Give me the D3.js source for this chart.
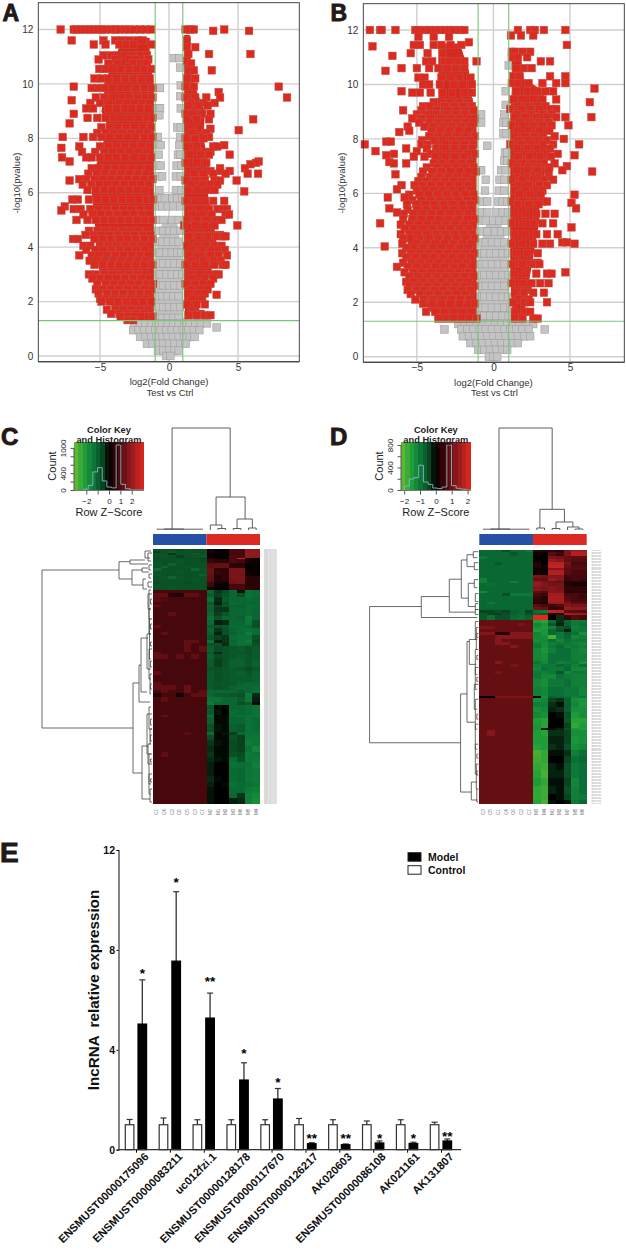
<!DOCTYPE html>
<html>
<head>
<meta charset="utf-8">
<script src="https://d3js.org/d3.v7.min.js"></script>
<style>
html, body { margin: 0; padding: 0; background: #fff; }
svg { display: block; font-family: "Liberation Sans", Arial, sans-serif; }
</style>
</head>
<body>
<div id="chart"></div>
<script>
// volcano plots: each row is [-log10(p), x, x, x ...]
const grayRowsA = [
  [10.95,.35,.75],[10.6,.8],[9.95,.85],[9.85,-.65],[9.55,.8],[9.1,-.8,-.65,.85],[8.85,-.85,-.7],[8.4,.6,.85],
  [8.05,-.95,-.8,.8],[7.75,-.8,-.6,.75],[7.4,-.75,.65,.8],[7,-.9,-.6,.55,.9],[6.6,-.8,-.5,.5,.85],[6.1,-.7,.5,.9],
  [5.8,-.9,-.55,-.3,.25,.6,.95],[5.5,-.9,-.5,-.1,.3,.8],[5,-.9,-.4,.25,.7],[4.6,-.8,-.4,0,.4,.8],[4.2,-.9,-.5,-.1,.3,.7],
  [3.8,-.95,-.6,-.2,.2,.6,.9],[3.4,-.8,-.4,0,.4,.8],[3,-.95,-.6,-.2,.2,.6,.95],[2.6,-.8,-.4,0,.4,.8],[2.2,-.9,-.5,-.1,.3,.7],
  [1.8,-.8,-.4,0,.4,.8],[1.4,-1.4,-.9,-.5,-.1,.3,.7,2.1,2.6],[1.2,-2.5,-2.1,-1.7,-1.3,-.9,-.5,-.1,.3,.7,1.1,1.5,1.9,2.3,2.75],
  [1.05,3.45],[.95,-2.6,-2.2,-1.8,-1.4,-1,-.6,-.2,.2,.6,1,1.4,1.8,2.2],[.7,-2.1,-1.7,-1.3,-.9,-.5,-.1,.3,.7,1.1,1.5,1.85],
  [.45,-1.6,-1.2,-.8,-.4,0,.4,.8,1.2],[.2,-.8,-.4,0,.4,.7],[0,-.2,.1]
];
const redRowsA = [
  [12,-7.85,-6.9,-6.7,-6.4,-6.1,-5.8,-5.5,-5.2,-4.9,-4.6,-4.2,-3.9,-3.6,-3.2,-2.9,-2.5,-2.1,-1.7,-1.3,1.2,1.5,1.8,4],
  [11.95,3.2,5.8],[11.6,-7.05,-4.75,-3.9,-3.4,-2.9,-2.3,-1.9,1.3],[11.45,-5.45,-4.6,-3.6,-3.1,-2.6,-1.25],[11.35,1.3,1.9],
  [11.1,1.4,2.9,5.9],[11.05,-4.75,-4.2,-3.7,-3.2,-2.7,-2.1,-1.6],[10.9,-5.1,-3.9,-2.9,-2.4,-1.5],[10.85,1.3],
  [10.75,-4.4,-3.7,-2.6,-2.05,-1.6,1.6],[10.55,-5.05,-4.6,-4.1,-3.5,-2.9,-2.3,-1.8,-1.3],[10.5,1.5,1.8,3.1],[10.2,-5.4,-4.9,-4.4,-3.8,-3.2,-2.6,-2,-1.4,1.3,1.9],
  [9.9,-6.9,1.2,1.8,7.95],[9.85,-5.6,-5.1,-4.6,-4.1,-3.5,-3,-2.4,-1.8,-1.2],[9.7,3.6],
  [9.5,-5.3,-4.7,-4.1,-3.4,-2.9,-2.3,-1.7,-1.2,1.2,1.9,2.7,3.7,8.55],[9.4,-7.05],[9.3,-5.7,-5,-4.35,-3.6,-3.05,-2.5,-1.95,-1.4,1.6,2.5,3.3],[9.2,1.4,2.1,2.8],
  [9.1,-6,-5.5,-4.4,-3.8,-3.2,-2.7,-2.1,-1.5],[8.9,-6.9,1.2,1.7,2.4,3],[8.75,-5.9,-5.2,-4.6,-4,-3.5,-2.8,-2.2,-1.6,-1.2],
  [8.7,1.3,2,2.9,6.1],[8.55,-7.2],[8.4,-4.9,-4.3,-3.7,-3.1,-2.5,-1.9,-1.3],[8.35,1.5,2.2,3],[8.3,5.05],[8.2,-5.2,-4.6,-4,-3.35,-2.75,-2.15,-1.55,1.7,2.7],
  [8.05,-7.7,-6.2,-5.5,-4.9,-4.3,-3.6,-3,-2.4,-1.8,-1.2,2.9],[8,1.2,1.9,2.5],[7.75,4],[7.7,-6.5,-5,-4.4,-3.8,-3.2,-2.6,-2,-1.4,1.3,2,3.2,3.5],
  [7.65,-7.8],[7.5,-6.3,-5.35,-4.7,-4.1,-3.5,-2.85,-2.2,-1.65,1.8,2.6,3],[7.4,1.5,2.3,2.9,4.4],[7.3,-7.75,-6,-5.6,-5,-4.4,-3.8,-3.2,-2.5,-1.9,-1.3],[7.15,-7.2,6.5],
  [7.1,1.2,2,2.7,6.3],[7.05,5.9],[6.9,-5.6,-5.1,-4.5,-3.9,-3.3,-2.7,-2.1,-1.5,3.7,5.5],[6.8,1.5,2.2,3,3.7,4.4],[6.7,-5.85,-5.25,-4.65,-4.05,-3.45,-2.85,-2.25,-1.65,1.8,2.5,3.2,4.1,5.7,6.45],
  [6.5,-6.5,-6,-5.4,-4.8,-4.2,-3.6,-3,-2.4,-1.8,-1.2],[6.45,-7.2,1.2,1.9,2.6,3.3,3.7,4.9],[6.3,-6.25,-5.65,-5.05,-4.45,-3.85,-3.25,-2.65,-2.05,-1.45,1.65,2.45,3,3.5],[6.1,-5.9,-5.3,-4.7,-4.1,-3.5,-2.9,-2.3,-1.7,1.4,2.1,2.8,3.3],
  [6.05,5.45],[5.75,-7,-6.6,-5.8,-5.2,-4.6,-4,-3.4,-2.8,-2.2,-1.6,-1.2],[5.7,1.2,1.9,2.6,3.2,4],[5.5,-7.55],
  [5.4,-6.9,-6.4,-5.7,-5.1,-4.5,-3.9,-3.3,-2.7,-2.1,-1.5,1.5,2.2,2.9,3.5,3.9,4.2],[5.35,-7.8],[5.2,-6.2,-5.55,-4.95,-4.35,-3.75,-3.15,-2.55,-1.95,-1.4,1.7,2.45,3.1,4.1,4.35],[5,-6.7,-5.9,-5.3,-4.7,-4.1,-3.5,-2.9,-2.3,-1.7,-1.2,1.3,2,2.7,3.4,3.8],
  [4.8,1.1,1.9,2.6,3.3,4.95],[4.6,-5.8,-5.2,-4.6,-4,-3.4,-2.8,-2.2,-1.6],[4.45,-6.05,-5.5,-4.9,-4.3,-3.7,-3.1,-2.5,-1.9,-1.35,1.7,2.4,3.15,3.7],[4.4,1.4,2.1,2.8,3.5,3.9,4.1],[4.3,-6.95,-6.6,-5.4,-4.8,-4.2,-3.6,-3,-2.4,-1.8,-1.2],
  [4.05,-6.2,-5.7,-5,-4.4,-3.8,-3.2,-2.6,-2,-1.4,1.3,2,2.7,3.3,3.8],[3.9,-6,-5.35,-4.75,-4.15,-3.55,-2.95,-2.35,-1.75,1.65,2.4,3.1,3.55,4.05],[3.7,-6.5,-5.6,-5.1,-4.5,-3.9,-3.3,-2.7,-2.1,-1.5,1.5,2.3,3,3.6,4.2],
  [3.5,-5.75,-5.25,-4.65,-4.05,-3.45,-2.85,-2.25,-1.65,1.65,2.5,3.2,3.75],[3.35,-5.4,-4.8,-4.2,-3.6,-3,-2.4,-1.8,-1.2,1.2,1.9,2.6,3.3,3.9,4.1],[3,-5.8,-5.3,-4.7,-4.1,-3.5,-2.9,-2.3,-1.7,1.5,2.2,2.9,3.6,3.4],
  [2.85,-5.55,-5,-4.4,-3.8,-3.2,-2.6,-2,-1.4,1.7,2.6,3.2],[2.65,-5.2,-4.6,-4,-3.4,-2.8,-2.2,-1.6,-1.15,1.2,1.9,2.5,3],[2.45,-5.3,-4.8,-4.2,-3.6,-3,-2.4,-1.8,-1.25,1.6,2.3,2.8],[2.3,-5.1,-4.5,-3.9,-3.3,-2.7,-2.1,-1.5,1.4,2.1,2.6],[2.25,3.45],
  [2.1,-5,-4.6,-4,-3.4,-2.8,-2.2,-1.65,1.65,2.4],[2,-4.9,-4.3,-3.7,-3.1,-2.5,-1.9,-1.3],[1.9,1.3,2,2.6],[1.7,-4.5,-3.9,-3.3,-2.7,-2.1,-1.5],[1.55,-4.2,-3.6,-3,-2.4,-1.8,1.7,2.3],[1.5,1.4,2,2.6,3],[1.45,-3.5,-3,-2.5,-2,-1.5,-1.2],[1.32,-3,-2.6]
];
const grayRowsB = [
  [10.7,1],[9.75,.8],[9.25,.8],[8.9,-.8,.7],[8.6,-.8,.65,.85],[8.2,.65,.85],[7.75,-.4],[7.5,.75,.9],[7.2,.7,.9],[6.85,-1,-.8,.5,.8],
  [6.5,-.5,.4,.7],[6.1,-.55,.35,.7],[5.7,-.7,-.4,.3,.6,.9],[5.3,-.8,-.4,.2,.6,.95],[5,-.9,-.5,0,.4,.8],[4.6,-.8,-.4,.1,.5,.9],
  [4.2,-.9,-.5,-.1,.3,.7],[3.8,-.95,-.6,-.2,.2,.6,.95],[3.4,-.9,-.5,-.1,.3,.7],[3,-.95,-.6,-.2,.2,.6,1],[2.6,-.9,-.5,-.1,.3,.7],
  [2.2,-1,-.6,-.2,.2,.6,.95],[1.8,-.9,-.5,-.1,.3,.7,1.1],[1.5,-1,-.6,-.2,.2,.6,1],[1.2,-2.3,-1.9,-1.5,-1.1,-.7,-.3,.1,.5,.9,1.3,1.7,2.1,2.6],
  [1,-3.2,-2.1,-1.7,-1.3,-.9,-.5,-.1,.3,.7,1.1,1.5,1.9,2.3,3.35],[.75,-2,-1.6,-1.2,-.8,-.4,0,.4,.8,1.2,1.6,2,2.4],
  [.5,-1.5,-1.1,-.7,-.3,.1,.5,.9,1.3,1.6],[.25,-1,-.6,-.2,.2,.6,.9],[0,-.3,0,.25]
];
const redRowsB = [
  [12,-8.07,-7.4,-7.3,-6.4,-5.1,-4.9,-4.5,-4.2,-3.8,-3.5,-3.2,-2.9,-2.6,-2.2,-1.9,1.6,2.4,2.7,3.3,4.7],[11.8,1.15,1.8,2.6],[11.75,-4.9,-3.9,-2.9],
  [11.55,-1.6],[11.45,-5.2,-4.8,-3.9,-3.4,-2.8,-2.1,4.8],[11.4,-7.9],[11.2,1.2,1.4,1.9,2.4],[11.15,-5.4,-4.3,-3.3],[11.05,-6.6],[11,1.2,1.6,2.2],
  [10.85,-4.4,-4,-3.2,-2.9,-2.3,-1.9,-1.1,3.1,3.7],[10.6,-6,-5,-4.2,-3.6,-3,-2.5,-1.9,1.5,2,2.5],[10.5,-7.05],[10.3,1.3,1.7,3.7,4.7],
  [10.25,-4.9,-4.5,-3.4,-2.8,-2.2,-1.5],[10.05,1.2,1.6,2.3,3.2,4.1,4.7],[10,-4.6,-4.2,-3.5,-2.6,-2,-1.4],[9.85,6.6],
  [9.75,-6,1.5,2.2,2.9,3.4,3.9],[9.7,-5.3,-4.8,-4.1,-3.3,-2.7,-1.9,-1.4],[9.45,1.3,1.9,2.6,3.2,4.1],[9.35,-3.9,-3.4,-2.8,-2.2,-1.6,6.3],
  [9.2,-4.6,-4.15,-3.2,-2.55,-1.95,-1.4,1.6,2.2,2.8,3.4],[9.1,1.1,1.8,2.4,3,3.7,4.1],[9.05,-5.9,-4.7,-3.7,-3,-2.4,-1.8,-1.3],[8.9,-5,-4.4,-3.75,-3.1,-2.5,-1.85,1.5,2.4,3.2,3.8],[8.8,1.4,2.1,2.8,3.5,4.1,4.7,6.4],[8.75,-5.3,-4.7,-4.1,-3.4,-2.8,-2.2,-1.5,-1.2],
  [8.6,-4.85,-4.2,-3.6,-3,-2.4,-1.8,-1.3,1.7,2.35,3,3.6],[8.5,1.2,1.9,2.6,3.2,3.8,4.9],[8.45,-5.6,-4.5,-3.9,-3.3,-2.7,-2.1,-1.5],[8.3,-5.5,-4.05,-3.45,-2.85,-2.25,-1.65,1.55,2.3,3,3.65],[8.25,-6.15],[8.1,-4.2,-3.6,-3,-2.4,-1.8,-1.2,1.4,2.1,2.7,4],
  [8,4.6],[7.95,-4.65,-3.9,-3.3,-2.7,-2.1,-1.55,1.65,2.3,2.95,3.5],[7.9,-7,-6.7],[7.8,-8.4,-4.7,-4.3,-3.1,-2.5,-1.9,-1.3,1.1,1.8,2.5,3.2,3.9,5.6],[7.65,-5.7,-4.35,-3.75,-3.15,-2.55,-1.95,-1.4,1.55,2.2,2.85,3.7],[7.55,-7.7,-5],[7.45,-6.5,-4.1,-3.5,-2.9,-2.3,-1.7,-1.2,1.4,2.1,2.8,3.5,4.2],
  [7.4,-7,5.3],[7.35,-5.2,-4.5,-3.8,-3.15,-2.55,-1.9,1.65,2.35,3.05,3.75],[7.15,-6.8],[7.1,-6.5,-5.7,-3.9,-3.3,-2.7,-2.1,-1.5,1.2,1.9,2.6,3.3,4],[7,4.8],[6.95,-4.35,-3.65,-3.05,-2.45,-1.85,-1.3,1.55,2.3,2.95,3.65],[6.85,1.5,2.2,2.9,3.6,4.5],[6.8,-4.6,-4,-3.4,-2.8,-2.2,-1.6,-1.15,6.45],
  [6.7,-6.4],[6.6,-4.7,-4.15,-3.55,-2.95,-2.35,-1.75,1.6,2.25,2.95,3.6],[6.5,1.2,1.9,2.6,3.3,3.9],[6.45,-4.9,-4.4,-3.8,-3.2,-2.6,-2,-1.4],[6.3,-6,-5.15,-4.65,-4.05,-3.45,-2.85,-2.25,-1.65,1.6,2.3,3,3.5],[6.15,-6.3],[6.1,-5,-4.5,-3.9,-3.3,-2.7,-2.1,-1.5,1.4,2.1,2.8,3.2],
  [5.95,5.3,-5.5,-4.85,-4.25,-3.65,-3.05,-2.45,-1.85,-1.3,1.7,2.4,3.1],[5.85,-6.9,-5.8],[5.75,-5.3,-4.7,-4.1,-3.5,-2.9,-2.3,-1.7,-1.2],[5.7,1.2,1.9,2.6,3.2,3.5],[5.65,5.1],[5.6,-5.65,-5.05,-4.45,-3.85,-3.25,-2.65,-2.05,-1.5,1.6,2.3,2.95],[5.45,-6.8,5.4],[5.4,-5.6,-5,-4.4,-3.8,-3.2,-2.6,-2,-1.4],
  [5.3,-6.3],[5.25,1.4,2.1,2.8,3.4,4,-5.85,-5.25,-4.65,-4.05,-3.45,-2.85,-2.25,-1.65],[5.05,-5.9,-5.3,-4.7,-4.1,-3.5,-2.9,-2.3,-1.7,-1.2],[4.9,-7.4,1.2,1.9,2.6,3.2,3.9],[4.85,-6.05,-5.5,-4.9,-4.3,-3.7,-3.1,-2.5,-1.9,-1.35],[4.75,5.1],[4.7,-5.8,-5.2,-4.6,-4,-3.4,-2.8,-2.2,-1.6],
  [4.5,1.4,2.1,2.8,3.5,4.2,-6.05,-5.5,-4.95,-4.35,-3.75,-3.15,-2.55,-1.95,-1.4],[4.35,-5.9,-5.4,-4.8,-4.2,-3.6,-3,-2.4,-1.8,-1.2],[4.2,4.5,4.8],[4.15,1.2,1.9,2.6,3.2,3.7,5.3,-5.95,-5,-4.4,-3.8,-3.2,-2.6,-2,-1.45],[4.05,-7.1],[4,-5.7,-5.2,-4.6,-4,-3.4,-2.8,-2.2,-1.6],
  [3.8,1.5,2.2,2.9,-5.95,-5.4,-4.8,-4.2,-3.6,-3,-2.4,-1.8,-1.25],[3.65,-5.7,-5.1,-4.5,-3.9,-3.3,-2.7,-2.1,-1.5],[3.45,-5.9,-5.35,-4.75,-4.15,-3.55,-2.95,-2.35,-1.75,1.65,2.4,2.9],[3.4,1.2,1.9,2.6,3],[3.3,-6.3,-5.6,-5,-4.4,-3.8,-3.2,-2.6,-2,-1.4],[3.1,4.7,-5.8,-5.25,-4.65,-4.05,-3.45,-2.85,-2.25,-1.65],[3.05,1.4,2.1,2.8,3.5,3.8],
  [2.95,-5.5,-4.9,-4.3,-3.7,-3.1,-2.5,-1.9,-1.3],[2.75,-5.7,-5.2,-4.6,-4,-3.4,-2.8,-2.2,-1.6],[2.7,1.2,1.9,2.5,3.05,3.6],[2.6,-5.5,-4.9,-4.3,-3.7,-3.1,-2.5,-1.9,-1.2],[2.45,-5.6,-5.05,-4.45,-3.85,-3.25,-2.65,-2.05,-1.5,1.65,2.25],[2.35,1.4,2,2.6,3.3],
  [2.3,-5.4,-4.8,-4.2,-3.6,-3,-2.4,-1.8],[2.1,-5.1,-4.55,-3.95,-3.35,-2.75,-2.15,-1.55,1.65,2.3],[2,1.3,2,2.4,3.5],[1.95,-4.6,-4,-3.4,-2.8,-2.2,-1.6,-1.2],[1.65,-4.4,-3.8,-3.2,-2.6,-2,-1.4,1.4,2,2.4],
  [1.4,-3.6,-3.1,-2.6,-2.1,-1.6,-1.1,1.4,1.9,2.6,2.9]
];
// solid part of the point clouds: [y, xLeft, xRight]
const massA = {
  gray: [[5,-.45,.55],[4,-.9,.9],[3,-1,1],[1.4,-1,1],[1.25,-2.4,2.6],[.9,-2.4,2],[.6,-1.7,1.7],[.3,-.9,.9],[.05,-.3,.3]],
  left: [[11.7,-3.3,-1.4],[11,-3.9,-1.4],[10,-4.7,-1.1],[9.5,-4.7,-1.1],[9,-4.9,-1.1],[8.5,-4.5,-1.1],[8,-4.7,-1.1],[7.5,-4.9,-1.1],[7,-5.3,-1.1],[6.5,-5.5,-1.1],[6,-5.6,-1.1],[5.5,-5.5,-1.1],[5,-5.4,-1.1],[4.5,-5.3,-1.1],[4,-5.3,-1.1],[3.5,-5.2,-1.1],[3,-5,-1.1],[2.5,-4.7,-1.1],[2,-4.4,-1.1],[1.6,-3.8,-1.1],[1.3,-3.1,-1.1]],
  right: [[11.8,1.1,1.5],[11,1.1,1.5],[10,1.1,1.8],[9,1.1,2.6],[8,1.1,2.5],[7,1.1,2.9],[6,1.1,2.8],[5,1.1,3.2],[4,1.1,3.5],[3,1.1,3],[2,1.1,2.1],[1.4,1.2,2.3]]
};
const massB = {
  gray: [[5,-.4,.45],[4,-.9,.9],[3,-1,1],[1.45,-1,1],[1.25,-2.2,2.4],[.9,-2.3,2.3],[.6,-1.8,2],[.3,-1,1],[.05,-.3,.3]],
  left: [[11.5,-3.6,-2.2],[10.5,-3.6,-1.6],[9.5,-3.6,-1.4],[9,-4.4,-1.1],[8.5,-4.4,-1.1],[8,-3.9,-1.1],[7.5,-3.9,-1.1],[7,-3.9,-1.1],[6.5,-4.5,-1.1],[6,-4.8,-1.1],[5.5,-5.2,-1.1],[5,-5.6,-1.1],[4.5,-5.6,-1.1],[4,-5.6,-1.1],[3.5,-5.6,-1.1],[3,-5.4,-1.1],[2.5,-5.3,-1.1],[2,-4.6,-1.1],[1.5,-3.9,-1.1],[1.3,-3.3,-1.1]],
  right: [[11,1.2,1.8],[10.2,1.2,2],[9.8,1.2,3.2],[9,1.1,3.6],[8,1.1,3.5],[7,1.1,3.5],[6,1.1,3],[5,1.1,3],[4,1.1,2.7],[3,1.1,2.4],[2,1.2,2.1],[1.4,1.3,2.1]]
};

// heatmaps: [row height, z * 10 for each column]
const columnsC = ["C1","C4","C2","C6","C5","C3","C7","M7","M1","M2","M3","M6","M5","M4"];
const heatC = [
  [2,-8,-8,-8,-7,-8,-8,-8,2,0,0,9,9,20,20],[2,-6,-8,-10,-8,-9,-7,-8,3,1,0,9,9,20,20],[2,-9,-8,-5,-8,-8,-10,-8,1,0,1,9,9,21,21],
  [3,-8,-9,-8,-6,-8,-8,-9,2,0,0,10,9,20,20],[1,-7,-8,-8,-8,-7,-8,-6,4,1,1,9,30,3,1],[4,-8,-8,-8,-9,-8,-8,-7,7,5,5,10,9,3,2],
  [3,-9,-8,-11,-8,-8,-8,-8,12,13,14,6,5,1,1],[2,-8,-12,-8,-8,-9,-8,-8,13,14,14,5,6,0,1],[3,-13,-8,-8,-8,-8,-12,-9,15,6,6,17,17,1,1],
  [3,-8,-8,-8,-9,-8,-8,-8,15,7,5,17,17,2,1],[2,-10,-8,-8,-8,-8,-8,-11,14,5,6,17,16,2,1],[3,-8,-9,-12,-9,-8,-8,-8,13,4,6,17,17,6,5],
  [3,-8,-8,-8,-8,-8,-9,-8,13,4,5,16,17,5,6],[2,-7,-8,-8,-8,-7,-8,-8,8,3,2,15,16,5,5],[3,-8,-8,-8,-8,-8,-8,-8,8,1,1,9,9,5,5],[3,-8,-8,-9,-8,-8,-8,-8,3,0,0,9,9,6,6],
  [3,9,9,9,9,9,9,9,-12,-5,-7,-12,-2,-14,-13],[4,13,13,5,4,13,13,9,-10,-6,-9,-12,-8,-14,-13],[5,12,10,9,9,9,9,9,-14,-4,-10,-12,-12,-13,-12],
  [3,9,9,9,9,9,9,9,-10,-3,-8,-13,-12,-12,-12],[2,13,9,9,9,9,9,9,-12,-6,-9,-11,-11,-13,-13],[5,9,9,9,9,9,9,9,-11,-5,-5,-12,-12,-13,-12],
  [4,9,9,13,9,9,9,9,-12,-6,-9,-12,-12,-13,-12],[4,9,9,9,9,9,9,9,-14,-8,-12,-12,-11,-16,-12],[5,9,9,9,9,9,9,9,-13,-3,-4,-12,-12,-15,-8],[3,13,9,9,9,9,9,9,-10,-8,-9,-13,-13,-12,-8],
  [4,9,9,9,9,9,9,9,-12,-5,-8,-12,-13,-14,-13],[3,9,13,9,9,9,9,9,-11,-3,-8,-11,-13,-16,-13],[5,9,9,9,9,9,9,9,-9,-6,-5,-13,-14,-14,-8],[3,9,9,9,9,13,13,9,-14,-3,-5,-12,-14,-16,-7],
  [3,9,9,9,9,13,9,9,-8,-8,-4,-12,-14,-13,-8],[6,9,9,9,9,13,9,13,-11,-7,-8,-9,-10,-8,-10],[2,13,9,9,9,9,9,9,-9,-4,-8,-10,-9,-8,-10],[5,13,13,9,13,9,13,9,-11,-7,-8,-9,-10,-9,-10],
  [8,9,9,9,9,9,9,9,-10,-6,-8,-11,-11,-9,-11],[4,9,9,9,9,9,9,9,-8,-8,-9,-10,-9,-7,-9],[4,13,9,9,9,9,9,9,-10,-8,-9,-10,-11,-9,-11],[7,9,9,9,9,9,9,9,-10,-8,-9,-10,-10,-10,-11],[3,13,9,9,9,9,9,9,-10,-9,-9,-9,-11,-12,-12],
  [5,13,13,13,9,14,9,9,-10,-8,-9,-11,-12,-12,-13],[3,9,13,9,9,14,9,13,-12,-12,-12,-12,-10,-12,-14],[4,4,9,9,2,9,13,13,-12,-10,-10,-9,-8,-16,-4],[5,9,13,9,9,9,9,9,-14,-14,-12,-12,-10,-15,-3],
  [3,9,9,9,9,9,9,9,-16,-12,-12,-12,-8,-10,-1],[4,9,9,9,9,9,9,9,-9,-1,-1,-12,-12,-13,-14],[6,9,9,9,9,9,9,9,-10,-2,0,-13,-12,-13,-14],[2,9,13,9,9,9,9,9,-14,0,-1,-13,-14,-14,-15],
  [7,9,9,9,9,9,9,9,-11,-1,-1,-12,-12,-14,-13],[8,9,9,9,9,9,9,9,-8,-2,-1,-11,-10,-14,-13],[3,9,9,9,9,12,9,9,-13,-1,-2,-6,-12,-14,-14],[5,9,9,9,9,9,9,9,-7,-1,-1,-8,-6,-15,-15],[6,9,9,9,9,9,9,9,-5,-2,-1,-7,-6,-16,-15],
  [6,9,9,9,9,9,9,9,-4,-1,-1,-7,-6,-14,-18],[5,9,13,9,9,9,9,9,-5,-1,-1,-8,-7,-16,-15],[5,9,9,9,9,9,9,9,-4,-2,-1,-13,-8,-15,-16],[6,9,9,9,9,9,9,9,-3,0,0,-14,-13,-14,-17],
  [8,9,9,9,9,9,9,9,-3,0,0,-13,-12,-15,-16],[6,9,9,9,9,9,9,9,-4,-1,0,-13,-12,-15,-16],[5,9,9,9,9,9,9,9,-3,0,-1,-14,-13,-14,-15],[6,9,9,9,9,9,9,9,-2,0,0,-13,-13,-16,-17],[5,9,9,9,9,9,9,9,-2,0,0,-12,-5,-17,-19],[6,9,9,9,9,9,9,9,-2,0,0,-3,-4,-17,-20]
];
const columnsD = ["C3","C5","C1","C4","C6","C2","C7","M3","M4","M1","M2","M7","M5","M6"];
const heatD = [
  [2,-8,-8,-8,-5,-8,-8,-10,4,3,4,3,11,15,15],[4,-8,-8,-8,-8,-6,-8,-8,1,0,7,5,11,17,17],[3,-10,-8,-8,-8,-8,-8,-8,0,0,11,10,9,8,8],[3,-8,-8,-8,-8,-8,-8,-8,1,0,14,12,9,7,7],
  [3,-8,-8,-6,-8,-8,-8,-8,3,0,18,18,10,6,6],[3,-8,-8,-8,-8,-8,-8,-8,3,2,19,19,9,7,7],[2,-8,-8,-8,-8,-8,-8,-8,1,1,12,12,8,7,7],[5,-8,-8,-8,-8,-8,-8,-8,1,1,17,17,8,6,6],
  [3,-8,-8,-8,-8,-8,-8,-8,11,10,12,12,5,6,6],[3,-11,-8,-8,-8,-8,-8,-8,9,9,14,12,5,6,5],[2,-11,-8,-8,-8,-11,-8,-8,13,11,10,9,3,3,3],[3,-8,-9,-8,-8,-8,-8,-8,14,12,10,11,3,2,2],
  [5,-8,-8,-8,-8,-8,-8,-8,12,11,12,11,4,4,4],[2,-12,-8,-8,-8,-8,-8,-8,8,7,12,12,3,3,3],[3,-8,-8,-8,-5,-10,-10,-10,6,5,15,15,6,6,5],[3,-8,-8,-8,-8,-8,-8,-8,5,3,16,16,7,6,5],
  [3,-8,-8,-8,-8,-8,-8,-8,4,3,16,16,8,6,6],[2,-8,-10,-8,-8,-8,-8,-8,3,2,14,14,11,8,8],[3,-8,-8,-8,-8,-8,-8,-8,8,6,5,7,12,11,11],[3,-8,-8,-8,-8,-8,-8,-8,10,9,4,4,14,13,13],
  [3,-4,-4,-5,-4,-7,-8,-4,-9,-10,19,18,8,8,7],[2,-6,-4,-4,-5,-7,-8,-5,-7,-6,3,4,16,14,14],[5,-6,-9,-5,-5,-8,-9,-7,22,22,0,-3,4,7,6],
  [4,9,9,9,9,9,9,9,-15,-16,-9,-3,-8,-10,-10],[3,9,9,9,9,9,11,9,-12,-14,-6,-2,-7,-10,-9],[3,11,11,9,9,9,9,9,-13,-15,-11,-6,-5,-11,-10],[3,9,9,9,9,9,9,9,-15,-14,-8,-5,-2,-10,-10],
  [3,12,12,3,3,12,12,12,-12,-14,-8,-10,-7,-9,-13],[4,9,9,12,12,12,12,12,-12,-13,-19,-10,-8,-12,-11],[3,9,9,12,9,9,9,9,-13,-12,-9,-12,-9,-10,-10],[3,9,9,12,12,9,9,9,-11,-13,-11,-10,-10,-11,-12],
  [3,9,9,9,9,12,9,9,-10,-13,-10,-8,-11,-10,-11],[5,9,9,9,9,9,9,9,-12,-14,-11,-9,-9,-11,-12],[8,9,9,9,9,9,9,9,-12,-13,-9,-9,-9,-11,-11],[3,9,9,12,9,9,9,9,-10,-12,-9,-11,-10,-10,-13],[3,9,9,9,9,11,9,9,-11,-10,-10,-8,-9,-11,-9],
  [4,9,9,9,9,9,9,9,-12,-9,-10,-10,-8,-12,-12],[3,9,9,11,9,9,9,9,-10,-11,-10,-6,-12,-10,-10],[5,9,9,9,9,9,9,9,-10,-12,-12,-9,-10,-11,-11],[8,9,9,9,9,9,9,9,-12,-13,-10,-10,-9,-11,-11],[9,9,9,9,9,9,9,9,-11,-12,-9,-9,-10,-10,-12],[2,0,0,11,11,11,11,11,1,-13,-7,-8,-9,-11,-10],
  [4,9,9,9,9,9,9,9,-13,-12,-4,-3,-7,-13,-14],[5,9,9,9,9,9,9,9,-11,-11,-3,-1,-7,-12,-14],[5,9,9,9,9,9,9,9,-13,-12,-2,-3,-7,-13,-13],[6,9,9,9,9,9,9,9,-12,-13,0,-1,-5,-15,-13],
  [5,9,9,9,9,9,9,9,-15,-16,0,0,-6,-16,-16],[5,9,9,9,9,9,9,9,-14,-16,0,0,-4,-17,-15],[2,9,9,9,9,9,9,9,-14,-1,-1,-2,-5,-14,-15],[6,9,12,9,9,9,9,9,-15,-16,-3,-3,-4,-13,-13],
  [8,9,9,9,9,9,9,9,-15,-15,-2,-2,-4,-14,-13],[6,9,9,9,9,9,9,9,-16,-15,-3,-2,-5,-13,-12],[6,9,9,9,9,9,9,9,-19,-17,-1,-1,-3,-11,-9],
  [7,9,9,9,9,9,9,9,-18,-17,0,0,-4,-9,-8],[7,9,9,9,9,9,9,9,-17,-18,-2,-1,-5,-10,-9],[8,9,9,9,9,9,9,9,-16,-19,-2,-2,-5,-10,-9],
  [8,9,9,9,9,9,9,9,-15,-17,-1,-1,-4,-12,-9],[8,9,9,9,9,9,9,9,-17,-18,-2,-1,-5,-11,-9],[6,9,9,9,9,9,9,9,-17,-18,0,-1,-4,-11,-10],[4,9,9,9,9,9,9,9,-16,-19,-1,0,-1,-10,-8]
];
const colorStops = [-1,-.7,-.4,-.2,-.05,0,.15,.35,.6,1];
const colorRange = ["#6cbd2f","#1f9f3a","#0a6f37","#0a4a22","#021006","#000000","#2a0306","#5a0c10","#8e1a1e","#e0281f"];

// dendrograms: [pos1, height1, pos2, height2, height]
const colTreeC = [[.5,.5,6.5,.5,.8],[1.5,.3,4,.3,1],[2.5,1,10.1,33,102],[8.25,5,12.05,11,33],[7.5,0,9,1.5,5],[8.5,0,9.5,0,1.5],[11,1.5,13,2,11],[10.5,0,11.5,0,1.5],[12.5,0,13.5,0,2]];
const colTreeD = [[.5,.5,6.5,.5,.8],[1.5,.3,4,.3,1],[2.57,1,9.5,20.7,102],[7.9,2,11.1,8,20.7],[7.5,0,8.5,0,2],[10,1.5,12.2,3,8],[9.5,0,10.5,0,1.5],[11.5,0,13,1,3],[12.5,0,13.5,0,1]];
const rowTreeC = [[21,33,179,19,110],[12.7,22,30,20,33],[11,7,15,4,22],[21,10,36,9,20],[19,4,23,3,10],[30,6,40,5,9],[2,1,9,2,7],[4,0,12,1,4],[16,0,21,1,3],[25,0,29,1,3],[33,0,38,0,4],
  [134,13,224,10,19],[116,11,153,2,13],[89,4,143,5,11],[197,4,250,2,10],[41,1,70,1,3],[45,0,60,1,4],[60,1,85,1,3],[70,0,110,1,2.5],[85,1,120,1,5],[100,0,130,1,3],[125,0,145,1,2],[158,1,180,0,3],[165,0,205,1,5],[180,0,195,1,2],[195,1,215,0,4],[205,0,235,1,3],[225,0,245,1,3],[240,0,253,0,2],[50,0,55,0,1.5],[75,0,80,0,1.5],[93,0,97,0,1.5],[112,0,118,0,1.5],[135,0,140,0,1.5],[170,0,176,0,1.5],[186,0,192,0,1.5],[210,0,213,0,1.5],[230,0,233,0,1.5]];
const rowTreeD = [[57,57,193.6,17.7,108.7],[47,29,68,1,57],[29.6,17,62.6,3,29],[10.3,11.3,48.6,10,17],[5,5,17,4,11.3],[33.7,4,57,3,10],[2,0,8,1,5],[13,0,20,0,4],[30,0,38,1,4],[44,0,52,0,3],[54,0,60,0,3],[60,0,65,0,3],
  [144.6,11.3,243,7,17.7],[92,9,173,3,11.3],[90,2,115,2,9],[233,1,251,1,7],[72,0,90,1,3],[78,0,100,1,2],[100,0,125,1,3],[118,0,140,1,3],[135,0,160,1,4],[150,0,180,1,3],[175,0,200,1,3],[195,0,225,1,3],[215,0,240,1,2],[240,0,253,0,1.5],[84,0,88,0,1.5],[106,0,110,0,1.5],[128,0,132,0,1.5],[165,0,170,0,1.5],[205,0,209,0,1.5],[222,0,226,0,1.5]];

// colour key histograms
const histBinsC = [20,110,430,530,215,70,50,1070,135,30];
const histBinsD = [70,195,220,440,142,100,35,25,53,800,77,30,15];

// bar chart
const transcripts = ["ENSMUST00000175096","ENSMUST00000083211","uc012fzi.1","ENSMUST00000128178","ENSMUST00000117670","ENSMUST00000126217","AK020603","ENSMUST00000086108","AK021161","AK131807"];
const modelMeans = [5.03,7.55,5.27,2.79,2.03,.24,.2,.27,.25,.35];
const modelTops = [6.8,10.33,6.27,3.48,2.45,.28,.23,.35,.3,.43];
const controlMeans = [1,1,1,1,1,1,1,1,1,1];
const controlTops = [1.21,1.27,1.2,1.2,1.2,1.25,1.2,1.15,1.2,1.1];
const stars = ["*","*","**","*","*","**","**","*","*","**"];
const starHeights = [7.2,10.85,6.9,4,2.87,.59,.59,.59,.59,.7];

const svg = d3.select("#chart").append("svg").attr("width", 626).attr("height", 1250);

function panelLetter(text, x, y, size) {
    svg.append("text").attr("x", x).attr("y", y)
        .attr("font-size", size).attr("font-weight", "bold")
        .attr("fill", "#231815").attr("stroke", "#231815").attr("stroke-width", 0.9)
        .text(text);
}

function volcano(o) {
    const x = d3.scaleLinear().domain(o.xDomain).range([o.left, o.right]);
    const y = d3.scaleLinear().domain([0, 12]).range(o.yRange);
    const g = svg.append("g");
    const side = 7.6;

    g.append("rect").attr("x", o.left).attr("y", o.top).attr("width", o.right - o.left).attr("height", o.bottom - o.top).attr("fill", "#fff");

    g.append("g").selectAll("line").data([-5, 0, 5]).join("line")
        .attr("x1", d => x(d)).attr("x2", d => x(d)).attr("y1", o.top).attr("y2", o.bottom)
        .attr("stroke", "#cfcfcf").attr("stroke-width", 1.4);
    g.append("g").selectAll("line").data(d3.range(0, 13, 2)).join("line")
        .attr("x1", o.left).attr("x2", o.right).attr("y1", d => y(d)).attr("y2", d => y(d))
        .attr("stroke", "#cfcfcf").attr("stroke-width", 1.4);

    const area = d3.area().y(d => y(d[0])).x0(d => x(d[1])).x1(d => x(d[2]));
    const points = rows => rows.flatMap(r => r.slice(1).map(v => [v, r[0]]));

    g.append("path").attr("d", area(o.mass.gray)).attr("fill", "#c2c2c2");
    g.append("g").selectAll("rect").data(points(o.gray)).join("rect")
        .attr("x", d => x(d[0]) - side / 2).attr("y", d => y(d[1]) - side / 2)
        .attr("width", side).attr("height", side)
        .attr("fill", "#c4c4c4").attr("stroke", "#a0a0a0").attr("stroke-width", 0.6);

    g.append("path").attr("d", area(o.mass.left)).attr("fill", "#d5281f");
    g.append("path").attr("d", area(o.mass.right)).attr("fill", "#d5281f");
    g.append("g").selectAll("rect").data(points(o.red)).join("rect")
        .attr("x", d => x(d[0]) - side / 2).attr("y", d => y(d[1]) - side / 2)
        .attr("width", side).attr("height", side)
        .attr("fill", "#dc2a1f").attr("stroke", "#b9544c").attr("stroke-width", 0.5);

    const green = "#78c679";
    g.selectAll(".vcut").data([-1, 1]).join("line").attr("class", "vcut")
        .attr("x1", d => x(d)).attr("x2", d => x(d)).attr("y1", o.top).attr("y2", o.bottom)
        .attr("stroke", green).attr("stroke-width", 1.1);
    g.append("line").attr("x1", o.left).attr("x2", o.right).attr("y1", y(1.3)).attr("y2", y(1.3))
        .attr("stroke", green).attr("stroke-width", 1.1);

    g.append("line").attr("x1", o.left).attr("x2", o.right).attr("y1", o.bottom).attr("y2", o.bottom)
        .attr("stroke", "#8c8c8c").attr("stroke-width", 1.6);
    g.append("rect").attr("x", o.left).attr("y", o.top).attr("width", o.right - o.left).attr("height", o.bottom - o.top)
        .attr("fill", "none").attr("stroke", "#333").attr("stroke-width", 0.9);

    const xAxis = g.append("g").attr("transform", `translate(0,${o.bottom + 1})`)
        .call(d3.axisBottom(x).tickValues([-5, 0, 5]).tickSize(0).tickPadding(1).tickFormat(d => d < 0 ? "\u2212" + (-d) : d));
    const yAxis = g.append("g").attr("transform", `translate(${o.left},0)`)
        .call(d3.axisLeft(y).tickValues(d3.range(0, 13, 2)).tickSize(0).tickPadding(5));
    [xAxis, yAxis].forEach(a => {
        a.select(".domain").remove();
        a.selectAll("text").attr("font-size", 10).attr("fill", "#333").attr("font-family", "Liberation Sans");
    });

    const cx = x(0);
    g.append("text").attr("x", cx).attr("y", o.bottom + 23.5).attr("text-anchor", "middle").attr("font-size", 9.5).attr("fill", "#333").text("log2(Fold Change)");
    g.append("text").attr("x", cx + 1).attr("y", o.bottom + 34).attr("text-anchor", "middle").attr("font-size", 9.5).attr("fill", "#333").text("Test vs Ctrl");
    g.append("text").attr("transform", `translate(${o.left - 18.5},183) rotate(-90)`).attr("text-anchor", "middle").attr("font-size", 9.5).attr("fill", "#333").text("-log10(pvalue)");
}

function heatmap(o) {
    const total = d3.sum(o.rows, r => r[0]);
    const col = d3.scaleBand().domain(d3.range(14)).range([o.left, o.right]);
    const pos = d3.scaleLinear().domain([0, 14]).range([o.left, o.right]);
    const rowY = d3.scaleLinear().domain([0, total]).range([o.top, o.bottom]);
    const color = d3.scaleLinear().domain(colorStops.map(d => d * o.zMax)).range(colorRange).clamp(true);
    const g = svg.append("g");

    let used = 0;
    const cells = [];
    o.rows.forEach(r => {
        r.slice(1).forEach((z, i) => cells.push({ i: i, start: used, n: r[0], z: z / 10 }));
        used += r[0];
    });
    g.append("g").attr("shape-rendering", "crispEdges").selectAll("rect").data(cells).join("rect")
        .attr("x", d => col(d.i)).attr("y", d => rowY(d.start))
        .attr("width", col.bandwidth() + 0.3).attr("height", d => rowY(d.start + d.n) - rowY(d.start) + 0.3)
        .attr("fill", d => color(d.z));

    // sample strip above the map
    g.append("rect").attr("x", pos(0)).attr("y", 534).attr("width", pos(7) - pos(0)).attr("height", 11).attr("fill", "#2450a6");
    g.append("rect").attr("x", pos(7)).attr("y", 534).attr("width", pos(14) - pos(7)).attr("height", 11).attr("fill", "#dc2a22");

    // column tree
    const colH = d3.scaleLinear().domain([0, 102]).range([530, 428]);
    g.append("g").attr("fill", "none").attr("stroke", "#4d4d4d").attr("stroke-width", 0.9)
        .selectAll("path").data(o.colTree).join("path")
        .attr("d", d => `M${pos(d[0])},${colH(d[1])}V${colH(d[4])}H${pos(d[2])}V${colH(d[3])}`);

    // row tree
    const rowPos = d3.scaleLinear().domain([0, 255]).range([o.top, o.bottom]);
    const rowD = d3.scaleLinear().domain([0, 110]).range([o.left - 1, o.left - 111]);
    g.append("g").attr("fill", "none").attr("stroke", "#444").attr("stroke-width", 0.8)
        .selectAll("path").data(o.rowTree).join("path")
        .attr("d", d => `M${rowD(d[1])},${rowPos(d[0])}H${rowD(d[4])}V${rowPos(d[2])}H${rowD(d[3])}`);

    // row names are only a grey smear at this size
    g.append("g").attr("font-size", o.labelSize).attr("fill", "#a6a6a6")
        .selectAll("text").data(d3.range(o.labelCount)).join("text")
        .attr("x", o.labelX).attr("y", d => o.top + (d + 0.9) * (o.bottom - o.top) / o.labelCount)
        .text(o.labelText);

    g.append("g").attr("font-size", 4.6).attr("fill", "#777")
        .selectAll("text").data(o.columns).join("text")
        .attr("transform", (d, i) => `translate(${col(i) + col.bandwidth() / 2 + 1.6},815) rotate(-90)`)
        .text(d => d);
}

function colorKey(o) {
    const x = d3.scaleLinear().domain([-o.zMax, o.zMax]).range([o.left, o.right]);
    const y = d3.scaleLinear().domain([0, o.countTop]).range([490, 442]);
    const color = d3.scaleLinear().domain(colorStops.map(d => d * o.zMax)).range(colorRange);
    const g = svg.append("g");
    const bands = d3.range(16);
    const bandW = (o.right - o.left) / 16;

    g.append("g").attr("shape-rendering", "crispEdges").selectAll("rect").data(bands).join("rect")
        .attr("x", d => o.left + d * bandW).attr("y", 442).attr("width", bandW + 0.3).attr("height", 48)
        .attr("fill", d => color(x.invert(o.left + (d + 0.5) * bandW)));

    const steps = [];
    o.bins.forEach((c, i) => {
        steps.push([o.binStart + i * o.binWidth, c]);
        steps.push([o.binStart + (i + 1) * o.binWidth, c]);
    });
    g.append("path")
        .attr("d", d3.line().x(d => x(d[0])).y(d => y(d[1]))([[o.binStart, 0]].concat(steps, [[o.binStart + o.bins.length * o.binWidth, 0], [o.zMax, 0]])))
        .attr("fill", "none").attr("stroke", "#86b9bd").attr("stroke-width", 0.9);

    const ax = g.append("g").attr("transform", "translate(0,490.5)")
        .call(d3.axisBottom(x).tickValues(o.xTicks).tickSize(4).tickPadding(3.5).tickFormat(d => o.xLabels.includes(d) ? (d < 0 ? "\u2212" + (-d) : d) : ""));
    ax.select(".domain").attr("stroke", "#777").attr("d", `M${o.left},0H${o.right}`);
    ax.selectAll("line").attr("stroke", "#555");
    ax.selectAll("text").attr("font-size", 8).attr("fill", "#222");

    const ay = g.append("g").attr("transform", `translate(${o.left},0)`)
        .call(d3.axisLeft(y).tickValues(o.yTicks).tickSize(3.5).tickFormat(d => o.yLabels.includes(d) ? d : ""));
    ay.select(".domain").attr("stroke", "#555").attr("d", `M0,${y(0)}V${y(d3.max(o.yTicks))}`);
    ay.selectAll("line").attr("stroke", "#555");
    ay.selectAll("text").attr("font-size", 8).attr("fill", "#222")
        .attr("text-anchor", "middle").attr("x", 0).attr("dy", 0)
        .attr("transform", "translate(-8,0) rotate(-90)");

    const mid = (o.left + o.right) / 2;
    g.append("text").attr("x", mid).attr("y", 432.5).attr("text-anchor", "middle").attr("font-size", 9.3).attr("font-weight", "bold").attr("fill", "#222").text("Color Key");
    g.append("text").attr("x", mid).attr("y", 443).attr("text-anchor", "middle").attr("font-size", 9.3).attr("font-weight", "bold").attr("fill", "#222").text("and Histogram");
    g.append("text").attr("x", mid).attr("y", 515.5).attr("text-anchor", "middle").attr("font-size", 11).attr("fill", "#222").text("Row Z\u2212Score");
    g.append("text").attr("transform", `translate(${o.left - 18},466) rotate(-90)`).attr("text-anchor", "middle").attr("font-size", 11).attr("fill", "#222").text("Count");
}

function barChart() {
    const x = d3.scalePoint().domain(transcripts).range([136, 441]);
    const y = d3.scaleLinear().domain([0, 12]).range([1149.7, 850]);
    const g = svg.append("g");
    const barW = 8.6;
    const rows = transcripts.map((name, i) => ({ name: name, i: i }));

    function bars(means, tops, offset, fill, cap) {
        const s = g.append("g").selectAll("g").data(rows).join("g");
        s.append("line").attr("x1", d => x(d.name) + offset).attr("x2", d => x(d.name) + offset)
            .attr("y1", d => y(means[d.i])).attr("y2", d => y(tops[d.i])).attr("stroke", "#333").attr("stroke-width", 1.3);
        s.append("line").attr("x1", d => x(d.name) + offset - cap).attr("x2", d => x(d.name) + offset + cap)
            .attr("y1", d => y(tops[d.i])).attr("y2", d => y(tops[d.i])).attr("stroke", "#333").attr("stroke-width", 1.2);
        s.append("rect").attr("x", d => x(d.name) + offset - barW / 2).attr("y", d => y(means[d.i]))
            .attr("width", barW).attr("height", d => y(0) - y(means[d.i]))
            .attr("fill", fill).attr("stroke", fill === "#000" ? "#000" : "#333").attr("stroke-width", 1.2);
    }
    bars(controlMeans, controlTops, -6.4, "#fff", 3);
    bars(modelMeans, modelTops, 6.3, "#000", 3);

    g.append("g").attr("font-size", 13.5).attr("font-weight", "bold").attr("text-anchor", "middle")
        .selectAll("text").data(rows).join("text")
        .attr("x", d => x(d.name) + 6.3).attr("y", d => y(starHeights[d.i]) + 8.5)
        .text(d => stars[d.i]);

    const ay = g.append("g").attr("transform", "translate(118.5,0)")
        .call(d3.axisLeft(y).tickValues([0, 4, 8, 12]).tickSize(2).tickPadding(1.5));
    ay.select(".domain").attr("stroke", "#333").attr("stroke-width", 1.2);
    ay.selectAll("text").attr("font-size", 10.5).attr("font-weight", "bold").attr("font-family", "Liberation Sans").attr("fill", "#111");

    const ax = g.append("g").attr("transform", "translate(0,1149.7)")
        .call(d3.axisBottom(x).tickSize(3));
    ax.select(".domain").attr("stroke", "#333").attr("stroke-width", 1.2).attr("d", "M118.5,0H461");
    ax.selectAll("text")
        .attr("font-size", 11.1).attr("font-weight", "bold").attr("font-family", "Liberation Sans").attr("fill", "#111")
        .attr("text-anchor", "end").attr("x", 0).attr("y", 0).attr("dy", "0.35em")
        .attr("transform", "translate(10,5) rotate(-45)");

    g.append("text").attr("transform", "translate(98.5,990) rotate(-90)")
        .attr("text-anchor", "middle").attr("font-size", 15.2).attr("font-weight", "bold").attr("fill", "#111")
        .style("white-space", "pre").text("lncRNA  relative expression");

    const legend = [["Model", "#000", 852.7], ["Control", "#fff", 865.7]];
    g.append("g").selectAll("rect").data(legend).join("rect")
        .attr("x", 408).attr("y", d => d[2]).attr("width", 13).attr("height", 8.5)
        .attr("fill", d => d[1]).attr("stroke", "#222").attr("stroke-width", 1);
    g.append("g").selectAll("text").data(legend).join("text")
        .attr("x", 428).attr("y", d => d[2] + 8).attr("font-size", 10.5).attr("font-weight", "bold").attr("fill", "#111")
        .text(d => d[0]);
}

volcano({ left: 38.3, right: 299.3, top: 2.7, bottom: 361.7, xDomain: [-9.47, 9.44], yRange: [356, 29.5], gray: grayRowsA, red: redRowsA, mass: massA });
volcano({ left: 363.3, right: 624.3, top: 3.7, bottom: 362.3, xDomain: [-8.5, 8.55], yRange: [356.7, 30], gray: grayRowsB, red: redRowsB, mass: massB });

colorKey({ left: 74, right: 144, zMax: 3.08, countTop: 1140, bins: histBinsC, binStart: -2.24, binWidth: 0.41, xTicks: [-2, -1, 0, 1, 2], xLabels: [-2, 0, 1, 2], yTicks: [0, 200, 400, 600, 800, 1000], yLabels: [0, 400, 1000] });
colorKey({ left: 401, right: 470.7, zMax: 2.2, countTop: 853, bins: histBinsD, binStart: -1.97, binWidth: 0.296, xTicks: [-2, -1, 0, 1, 2], xLabels: [-2, -1, 0, 1, 2], yTicks: [0, 200, 400, 600, 800], yLabels: [0, 400, 800] });

heatmap({ left: 153, right: 260, top: 549, bottom: 804, zMax: 3.4, rows: heatC, columns: columnsC, colTree: colTreeC, rowTree: rowTreeC, labelCount: 255, labelSize: 1.7, labelX: 264, labelText: "ENSMUST00000" });
heatmap({ left: 479.3, right: 586.7, top: 549.7, bottom: 804, zMax: 2.2, rows: heatD, columns: columnsD, colTree: colTreeD, rowTree: rowTreeD, labelCount: 170, labelSize: 2, labelX: 591.5, labelText: "ENSMUST" });

barChart();

panelLetter("A", 2.5, 21, 23);
panelLetter("B", 330.5, 21, 23);
panelLetter("C", 1, 445, 24);
panelLetter("D", 330, 445, 24);
panelLetter("E", 0, 862, 28);
</script>
</body>
</html>
